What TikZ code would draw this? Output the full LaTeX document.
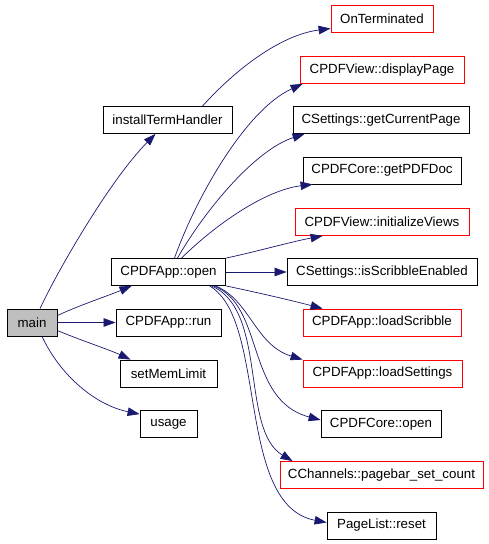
\documentclass[tikz,border=0pt]{standalone}
\usepackage{fontspec}
\setmainfont{Liberation Sans}
\usetikzlibrary{arrows.meta}
\definecolor{callblue}{HTML}{191970}
\definecolor{maingray}{HTML}{BFBFBF}

\begin{document}
\begin{tikzpicture}[x=1pt, y=-1pt, >={Triangle[length=12pt,width=8.5pt]},
    fn/.style={draw, rectangle, line width=0.8pt, minimum height=27pt, inner sep=0pt,
        font=\fontsize{13.3}{15}\selectfont},
    undoc/.style={fn, draw=red},
    call/.style={->, draw=callblue, fill=none, line width=0.7pt}]

    \useasboundingbox (0,0) rectangle (488,544);

    % Nodes
    \node (main) [fn, fill=maingray, minimum width=50pt] at (32,322.5) {main};
    \node (inst) [fn, minimum width=129pt] at (167.5,120) {installTermHandler};
    \node (open) [fn, minimum width=114pt] at (168.5,272) {CPDFApp::open};
    \node (run) [fn, minimum width=105pt] at (168.5,322.5) {CPDFApp::run};
    \node (mem) [fn, minimum width=97pt] at (168.5,373.5) {setMemLimit};
    \node (usage) [fn, minimum width=57pt] at (168.5,424) {usage};

    \node (onterm) [undoc, minimum width=102pt] at (382,18.5) {OnTerminated};
    \node (disp) [undoc, minimum width=164pt] at (382,70) {CPDFView::displayPage};
    \node (gcp) [fn, minimum width=176pt] at (381,120) {CSettings::getCurrentPage};
    \node (gpd) [fn, minimum width=158pt] at (382,170.5) {CPDFCore::getPDFDoc};
    \node (iviews) [undoc, minimum width=174pt] at (382,222) {CPDFView::initializeViews};
    \node (scrib) [fn, minimum width=190pt] at (382,272) {CSettings::isScribbleEnabled};
    \node (lscrib) [undoc, minimum width=158pt] at (382,322.5) {CPDFApp::loadScribble};
    \node (lset) [undoc, minimum width=159pt] at (382.5,373.5) {CPDFApp::loadSettings};
    \node (copen) [fn, minimum width=120pt] at (381,424) {CPDFCore::open};
    \node (pbar) [undoc, minimum width=203pt] at (381.5,475) {CChannels::pagebar\_set\_count};
    \node (reset) [fn, minimum width=109pt] at (381.5,525.5) {PageList::reset};

    % Calls from main
    \draw[call] ([xshift=8pt]main.north) .. controls (58,270) and (110,180) .. ([xshift=-12pt]inst.south);
    \draw[call] ([yshift=7pt]main.east) .. controls (80,305) and (110,295) .. ([xshift=-37pt]open.south);
    \draw[call] (main.east) -- (run.west);
    \draw[call] ([yshift=-8pt]main.east) .. controls (80,340) and (110,350) .. ([xshift=-38pt]mem.north);
    \draw[call] ([xshift=10pt]main.south) .. controls (60,375) and (95,405) .. ([yshift=-4pt]usage.north west);

    \draw[call] ([xshift=35pt]inst.north) .. controls (235,70) and (280,35) .. ([yshift=-10pt]onterm.west);

    % Calls from CPDFApp::open
    \draw[call] ([xshift=6pt]open.north) .. controls (195,200) and (245,110) .. ([xshift=3pt]disp.south west);
    \draw[call] ([xshift=9pt]open.north) .. controls (205,210) and (255,150) .. ([xshift=12pt]gcp.south west);
    \draw[call] ([xshift=13pt]open.north) .. controls (215,225) and (265,190) .. ([xshift=10pt]gpd.south west);
    \draw[call] (open.north east) .. controls (255,252) and (290,242) .. ([xshift=28pt]iviews.south west);
    \draw[call] (open.east) -- (scrib.west);
    \draw[call] (open.south east) .. controls (255,292) and (290,300) .. ([xshift=20pt]lscrib.north west);
    \draw[call] ([xshift=47pt]open.south) .. controls (250,300) and (255,345) .. (lset.north west);
    \draw[call] ([xshift=45pt]open.south) .. controls (265,305) and (245,400) .. ([yshift=4pt]copen.west);
    \draw[call] ([xshift=43pt]open.south) .. controls (268,310) and (240,430) .. ([xshift=13pt]pbar.north west);
    \draw[call] ([xshift=41pt]open.south) .. controls (268,320) and (235,505) .. ([yshift=3pt]reset.west);

\end{tikzpicture}
\end{document}
